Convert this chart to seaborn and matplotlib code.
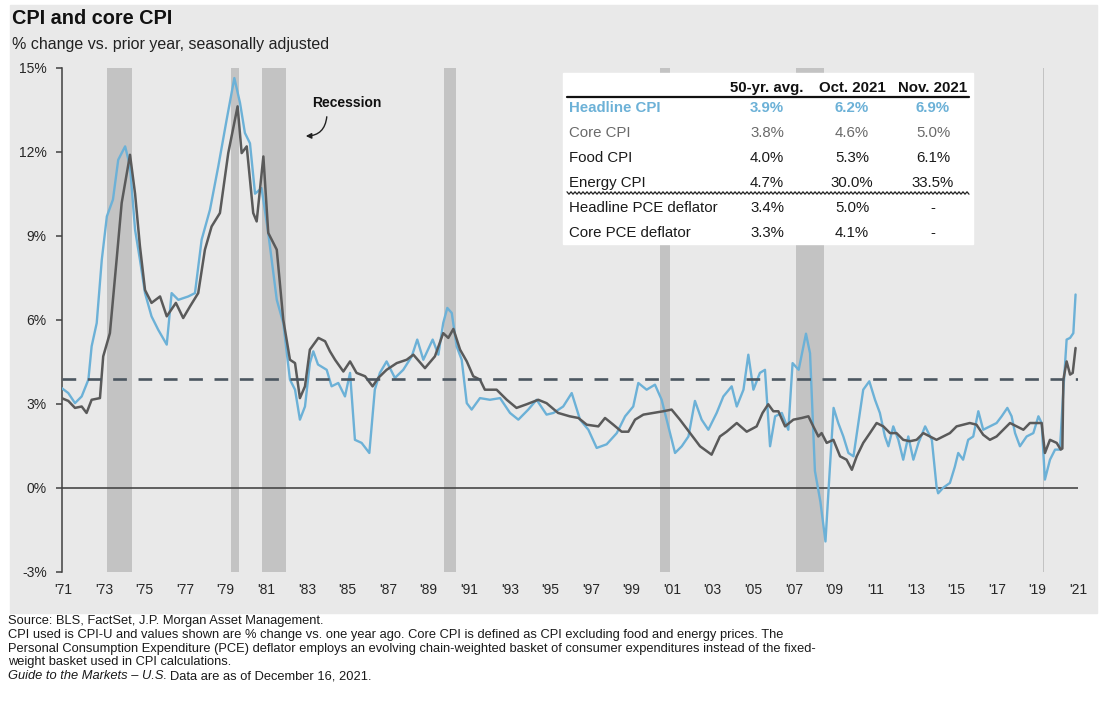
import matplotlib
matplotlib.use("Agg")
import matplotlib.pyplot as plt
import seaborn as sns
import pandas as pd
from matplotlib.patches import Rectangle
from matplotlib.lines import Line2D

# headline CPI, % y/y (decimal year)
cpi_dates = [1971.67, 1972.00, 1972.33, 1972.66, 1972.99, 1973.15, 1973.40, 1973.65, 1973.90,
             1974.20, 1974.46, 1974.80, 1975.04, 1975.29, 1975.53, 1975.78, 1976.10, 1976.43,
             1976.85, 1977.09, 1977.42, 1977.91, 1978.24, 1978.57, 1978.98, 1979.39, 1979.80,
             1980.18, 1980.46, 1980.70, 1980.95, 1981.20, 1981.52, 1981.85, 1982.27, 1982.59,
             1982.92, 1983.17, 1983.41, 1983.66, 1983.90, 1984.07, 1984.30, 1984.73, 1984.97,
             1985.30, 1985.63, 1985.88, 1986.12, 1986.45, 1986.83, 1987.10, 1987.35, 1987.68,
             1988.09, 1988.50, 1988.92, 1989.19, 1989.49, 1989.95, 1990.23, 1990.47, 1990.67,
             1990.89, 1991.13, 1991.38, 1991.63, 1991.87, 1992.28, 1992.77, 1993.27, 1993.76,
             1994.17, 1994.66, 1995.07, 1995.56, 1995.90, 1996.38, 1996.80, 1997.21, 1997.62,
             1998.03, 1998.52, 1999.02, 1999.43, 1999.83, 2000.08, 2000.49, 2000.90, 2001.23,
             2001.56, 2001.89, 2002.22, 2002.55, 2002.87, 2003.20, 2003.53, 2003.94, 2004.27,
             2004.68, 2004.93, 2005.26, 2005.50, 2005.75, 2006.07, 2006.32, 2006.57, 2006.82,
             2007.15, 2007.47, 2007.68, 2007.98, 2008.34, 2008.54, 2008.78, 2009.05, 2009.30,
             2009.50, 2009.70, 2009.93, 2010.18, 2010.43, 2010.68, 2010.92, 2011.16, 2011.46,
             2011.74, 2011.98, 2012.23, 2012.40, 2012.64, 2012.89, 2013.13, 2013.38, 2013.63,
             2013.88, 2014.21, 2014.54, 2014.77, 2014.85, 2015.10, 2015.43, 2015.67, 2015.84,
             2016.08, 2016.33, 2016.58, 2016.83, 2017.07, 2017.40, 2017.73, 2017.98, 2018.26,
             2018.47, 2018.64, 2018.88, 2019.21, 2019.54, 2019.79, 2019.95, 2020.11, 2020.36,
             2020.61, 2020.85, 2021.02, 2021.18, 2021.35, 2021.51, 2021.62]
cpi_yoy = [3.56, 3.38, 3.02, 3.26, 3.86, 5.05, 5.88, 8.14, 9.69,
           10.29, 11.71, 12.19, 11.48, 9.21, 8.14, 6.95, 6.12, 5.64,
           5.11, 6.95, 6.71, 6.83, 6.95, 8.86, 9.93, 11.48, 13.14,
           14.63, 13.74, 12.67, 12.30, 10.50, 10.70, 9.10, 6.71, 5.88,
           3.86, 3.50, 2.43, 2.90, 4.45, 4.87, 4.40, 4.21, 3.62,
           3.74, 3.26, 4.10, 1.71, 1.60, 1.24, 3.50, 4.10, 4.51,
           3.92, 4.21, 4.69, 5.29, 4.57, 5.29, 4.75, 5.88, 6.42,
           6.24, 5.05, 4.57, 3.02, 2.79, 3.20, 3.14, 3.20, 2.67,
           2.43, 2.79, 3.14, 2.61, 2.67, 2.90, 3.38, 2.43, 2.07,
           1.42, 1.55, 1.95, 2.55, 2.90, 3.74, 3.50, 3.68, 3.14,
           2.19, 1.24, 1.48, 1.83, 3.10, 2.43, 2.07, 2.67, 3.26,
           3.62, 2.90, 3.50, 4.75, 3.50, 4.10, 4.21, 1.48, 2.55,
           2.67, 2.07, 4.45, 4.21, 5.50, 4.80, 0.60, -0.50, -1.92,
           0.50, 2.85, 2.31, 1.83, 1.24, 1.12, 2.31, 3.50, 3.80,
           3.14, 2.67, 1.83, 1.48, 2.19, 1.71, 1.00, 1.83, 1.00,
           1.60, 2.19, 1.71, 0.05, -0.20, 0.00, 0.17, 0.74, 1.24,
           1.00, 1.71, 1.83, 2.73, 2.07, 2.19, 2.31, 2.55, 2.85,
           2.55, 1.95, 1.48, 1.83, 1.95, 2.55, 2.31, 0.29, 1.00,
           1.36, 1.36, 3.50, 5.29, 5.35, 5.52, 6.90]

# core CPI, % y/y
core_dates = [1971.67, 1972.00, 1972.33, 1972.66, 1972.90, 1973.15, 1973.56, 1973.72, 1974.05,
              1974.38, 1974.63, 1975.04, 1975.29, 1975.53, 1975.78, 1976.10, 1976.52, 1976.85,
              1977.30, 1977.66, 1978.00, 1978.40, 1978.73, 1979.06, 1979.47, 1979.88, 1980.34,
              1980.54, 1980.79, 1981.11, 1981.28, 1981.61, 1981.85, 1982.27, 1982.59, 1982.92,
              1983.17, 1983.41, 1983.66, 1983.90, 1984.32, 1984.65, 1984.89, 1985.14, 1985.55,
              1985.88, 1986.20, 1986.62, 1986.99, 1987.27, 1987.68, 1988.18, 1988.67, 1989.00,
              1989.57, 1990.06, 1990.47, 1990.72, 1990.97, 1991.30, 1991.63, 1991.95, 1992.28,
              1992.52, 1993.10, 1993.60, 1994.08, 1994.58, 1995.15, 1995.56, 1996.13, 1996.70,
              1997.13, 1997.54, 1998.11, 1998.44, 1998.85, 1999.26, 1999.59, 1999.92, 2000.33,
              2000.82, 2001.31, 2001.72, 2002.13, 2002.63, 2003.12, 2003.69, 2004.10, 2004.43,
              2004.93, 2005.42, 2005.91, 2006.20, 2006.48, 2006.73, 2006.98, 2007.31, 2007.72,
              2008.13, 2008.46, 2008.70, 2008.95, 2009.11, 2009.36, 2009.69, 2010.02, 2010.34,
              2010.60, 2010.84, 2011.16, 2011.49, 2011.82, 2012.15, 2012.48, 2012.80, 2013.13,
              2013.46, 2013.79, 2014.12, 2014.45, 2014.77, 2015.10, 2015.43, 2015.76, 2016.08,
              2016.41, 2016.74, 2017.07, 2017.40, 2017.73, 2018.06, 2018.39, 2018.72, 2019.05,
              2019.37, 2019.70, 2019.95, 2020.11, 2020.36, 2020.69, 2020.89, 2020.97, 2021.02,
              2021.18, 2021.35, 2021.48, 2021.62]
core_yoy = [3.20, 3.10, 2.85, 2.90, 2.67, 3.14, 3.20, 4.69, 5.52,
            8.14, 10.17, 11.89, 10.50, 8.62, 7.06, 6.60, 6.83, 6.12,
            6.60, 6.06, 6.48, 6.95, 8.50, 9.33, 9.81, 11.95, 13.62,
            11.95, 12.19, 9.81, 9.51, 11.83, 9.10, 8.50, 6.00, 4.57,
            4.45, 3.20, 3.62, 4.93, 5.35, 5.23, 4.87, 4.57, 4.15,
            4.51, 4.10, 3.98, 3.62, 3.92, 4.21, 4.45, 4.57, 4.75,
            4.27, 4.69, 5.52, 5.35, 5.67, 4.93, 4.51, 3.98, 3.86,
            3.50, 3.50, 3.14, 2.85, 2.98, 3.14, 3.02, 2.67, 2.55,
            2.49, 2.25, 2.19, 2.49, 2.25, 2.00, 2.00, 2.43, 2.61,
            2.67, 2.73, 2.79, 2.43, 1.95, 1.48, 1.18, 1.83, 2.00,
            2.31, 2.00, 2.19, 2.67, 2.98, 2.73, 2.73, 2.19, 2.43,
            2.49, 2.55, 2.19, 1.83, 1.95, 1.60, 1.71, 1.12, 1.00,
            0.64, 1.12, 1.60, 1.95, 2.31, 2.19, 1.95, 1.95, 1.71,
            1.66, 1.71, 1.95, 1.83, 1.71, 1.83, 1.95, 2.19, 2.25,
            2.31, 2.25, 1.89, 1.71, 1.83, 2.07, 2.31, 2.19, 2.07,
            2.31, 2.31, 2.31, 1.24, 1.71, 1.60, 1.36, 1.40, 3.86,
            4.51, 4.04, 4.10, 4.99]

# recessions (start, end) in decimal years
rec_start = [1973.89, 1980.00, 1981.53, 1990.52, 2001.15, 2007.85, 2020.00]
rec_end = [1975.12, 1980.41, 1982.72, 1991.08, 2001.64, 2009.23, 2020.06]

tick_years = list(range(1971, 2022, 2))
y_ticks = [-3, 0, 3, 6, 9, 12, 15]

table_rows = ["Headline CPI", "Core CPI", "Food CPI", "Energy CPI",
              "Headline PCE deflator", "Core PCE deflator"]
table_cols = ["50-yr. avg.", "Oct. 2021", "Nov. 2021"]
avg_50yr = ["3.9%", "3.8%", "4.0%", "4.7%", "3.4%", "3.3%"]
oct_2021 = ["6.2%", "4.6%", "5.3%", "30.0%", "5.0%", "4.1%"]
nov_2021 = ["6.9%", "5.0%", "6.1%", "33.5%", "-", "-"]
headline_avg = 3.9

footnotes = [
    "Source: BLS, FactSet, J.P. Morgan Asset Management.",
    "CPI used is CPI-U and values shown are % change vs. one year ago. Core CPI is defined as CPI excluding food and energy prices. The",
    "Personal Consumption Expenditure (PCE) deflator employs an evolving chain-weighted basket of consumer expenditures instead of the fixed-",
    "weight basket used in CPI calculations.",
]

BLUE = "#6cb1d7"
GRAY = "#5a5a5a"
W, H = 1108, 709


def fx(x):
    return x / W


def fy(y):
    return 1 - y / H


sns.set_theme(style="white")
plt.rcParams["font.family"] = ["Liberation Sans", "DejaVu Sans"]

fig = plt.figure(figsize=(W / 100, H / 100), dpi=100)
fig.patch.set_facecolor("white")
fig.patches.append(Rectangle((fx(10), fy(613)), fx(1097) - fx(10), fy(5) - fy(613),
                             transform=fig.transFigure, color="#e9e9e9", zorder=-1))

ax = fig.add_axes([fx(62), fy(571.7), fx(1078.2) - fx(62), fy(67.7) - fy(571.7)])
ax.set_facecolor("none")

for s, e in zip(rec_start, rec_end):
    ax.axvspan(s, e, color="#c3c3c3", lw=0, zorder=1)

ax.axhline(0, color="#474747", lw=1.2, zorder=2)

cpi = pd.DataFrame({"date": cpi_dates, "yoy": cpi_yoy})
core = pd.DataFrame({"date": core_dates, "yoy": core_yoy})
sns.lineplot(data=cpi, x="date", y="yoy", ax=ax, color=BLUE, lw=1.7, zorder=3)
sns.lineplot(data=core, x="date", y="yoy", ax=ax, color=GRAY, lw=1.8, zorder=4)

ax.axhline(headline_avg, color="#4b5660", lw=1.9, dashes=(5.2, 4.4), zorder=5)

ax.set_xlim(1971.69, 2021.75)
ax.set_ylim(-3, 15)
ax.set_xticks([y + 0.75 for y in tick_years])
ax.set_xticklabels([f"'{y % 100:02d}" for y in tick_years])
ax.set_yticks(y_ticks)
ax.set_yticklabels([f"{v}%" for v in y_ticks])
ax.set_xlabel("")
ax.set_ylabel("")
ax.tick_params(axis="x", length=0, pad=8, labelsize=10, labelcolor="#262626")
ax.tick_params(axis="y", length=4, width=1.1, color="#404040", direction="out",
               pad=7, labelsize=10, labelcolor="#262626", left=True)
for side in ["top", "right", "bottom"]:
    ax.spines[side].set_visible(False)
ax.spines["left"].set_color("#404040")
ax.spines["left"].set_linewidth(1.1)

# titles
fig.text(fx(12), fy(19), "CPI and core CPI", fontsize=14.3, fontweight="bold",
         color="#111111", va="center")
fig.text(fx(12), fy(44), "% change vs. prior year, seasonally adjusted", fontsize=11.5,
         color="#222222", va="center")

# recession callout
fig.text(fx(347), fy(103), "Recession", fontsize=10, fontweight="bold",
         ha="center", va="center", color="#111111")
ax.annotate("", xy=(303, H - 136), xytext=(327, H - 114), xycoords="figure pixels",
            textcoords="figure pixels",
            arrowprops=dict(arrowstyle="-|>", connectionstyle="arc3,rad=-0.5",
                            color="#222222", lw=1.0, mutation_scale=8))

# summary table
TS = 10.8
fig.patches.append(Rectangle((fx(563), fy(244)), fx(973) - fx(563), fy(73) - fy(244),
                             transform=fig.transFigure, color="white", zorder=2))
col_x = [767, 852, 933]
for cx, name in zip(col_x, table_cols):
    fig.text(fx(cx), fy(88), name, fontsize=TS, fontweight="bold", ha="center",
             va="center", color="#111111", zorder=3)
fig.add_artist(Line2D([fx(567), fx(969)], [fy(96.5), fy(96.5)], color="#111111",
                      lw=1.6, transform=fig.transFigure, zorder=3))
row_y = [108, 133, 158, 183, 208, 233]
row_colors = [BLUE, "#6a6a6a", "#1a1a1a", "#1a1a1a", "#1a1a1a", "#1a1a1a"]
for i, (label, ry, rc) in enumerate(zip(table_rows, row_y, row_colors)):
    weight = "bold" if i == 0 else "normal"
    fig.text(fx(569), fy(ry), label, fontsize=TS, ha="left", va="center",
             color=rc, fontweight=weight, zorder=3)
    for cx, col in zip(col_x, [avg_50yr, oct_2021, nov_2021]):
        fig.text(fx(cx), fy(ry), col[i], fontsize=TS, ha="center", va="center",
                 color=rc, fontweight=weight, zorder=3)
# wavy separator below Energy CPI
wx = list(range(567, 970, 2))
wy = [193 + (1.2 if k % 2 else -1.2) for k in range(len(wx))]
fig.add_artist(Line2D([fx(v) for v in wx], [fy(v) for v in wy], color="#222222",
                      lw=0.9, transform=fig.transFigure, zorder=3))

# footnotes
FS = 9.3
foot_y = [621, 634.8, 648.6, 662.4]
for line, fyv in zip(footnotes, foot_y):
    fig.text(fx(8), fy(fyv), line, fontsize=FS, va="center", color="#1a1a1a")
t1 = fig.text(fx(8), fy(676.2), "Guide to the Markets \u2013 U.S.", fontsize=FS,
              style="italic", va="center", color="#1a1a1a")
fig.canvas.draw()
bb = t1.get_window_extent(fig.canvas.get_renderer())
fig.text(bb.x1 / W + fx(3), fy(676.2), "Data are as of December 16, 2021.", fontsize=FS,
         va="center", color="#1a1a1a")

fig.savefig("out.png", dpi=100)
